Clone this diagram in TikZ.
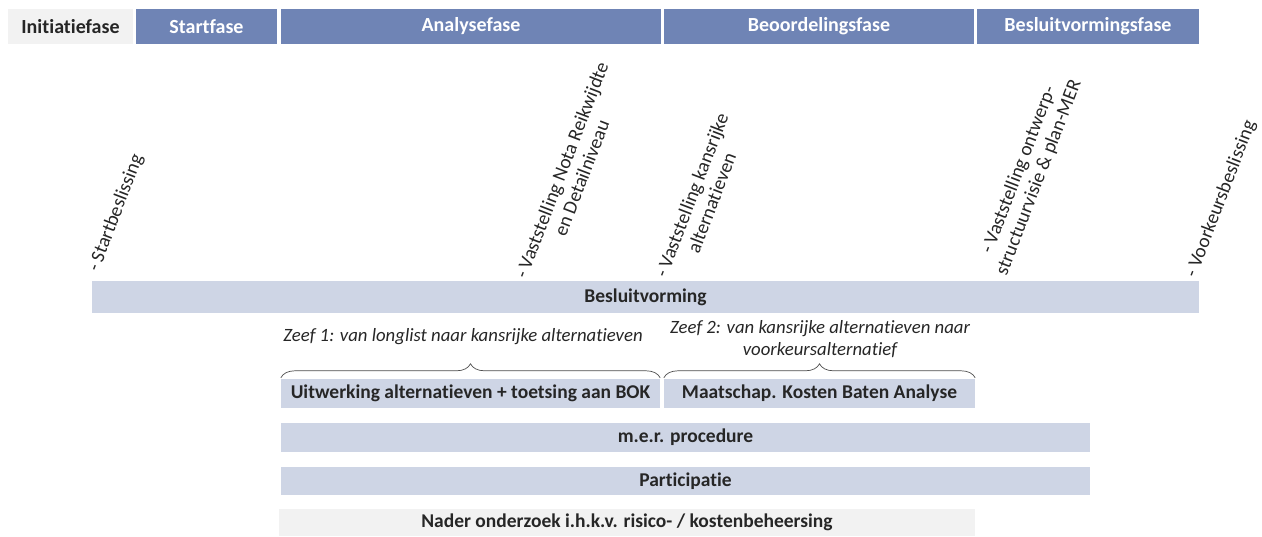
\documentclass[tikz,border=0pt]{standalone}
\usepackage{fontspec}
\setmainfont{Carlito}[Ligatures=NoCommon]
\usetikzlibrary{decorations.pathreplacing}
\definecolor{hdrblue}{RGB}{111,132,181}
\definecolor{barblue}{RGB}{206,213,229}
\definecolor{lightgray}{RGB}{242,242,242}
\tikzset{
  hdr/.style={fill=hdrblue,text=white,font=\fontsize{20}{22}\selectfont\bfseries,inner sep=0pt,minimum height=35pt},
  bar/.style={fill=barblue,text=black!85,font=\fontsize{19.5}{21}\selectfont\bfseries,inner sep=0pt},
  milestone/.style={rotate=69,anchor=center,inner sep=0pt,align=center,font=\fontsize{19.5}{21.5}\selectfont,text=black!85},
  zeef/.style={font=\fontsize{18.75}{22}\selectfont\itshape,align=center,text=black!85},
  bracestyle/.style={decorate,decoration={brace,amplitude=14pt},draw=black!70,line width=0.7pt}
}
\begin{document}
\begin{tikzpicture}[x=1pt,y=-1pt]
\useasboundingbox (0,0) rectangle (1262,536);
% header
\node[hdr,fill=lightgray,text=black!85,minimum width=125pt] (ini) at (70.5,26.5) {Initiatiefase};
\node[hdr,minimum width=141pt] (start) at (206.5,26.5) {Startfase};
\node[hdr,minimum width=380pt] (ana) at (471,26.5) {Analysefase};
\node[hdr,minimum width=310pt] (beo) at (819,26.5) {Beoordelingsfase};
\node[hdr,minimum width=222pt] (bes) at (1088,26.5) {Besluitvormingsfase};
% milestones
\node[milestone] (m1) at (116,213) {- Startbeslissing};
\node[milestone] (m2) at (571.5,174) {- Vaststelling Nota Reikwijdte\\en Detailniveau};
\node[milestone] (m3) at (701.5,199) {- Vaststelling kansrijke\\alternatieven};
\node[milestone] (m4) at (1029,174) {- Vaststelling ontwerp-\\structuurvisie \& plan-MER};
\node[milestone] (m5) at (1221,199) {- Voorkeursbeslissing};
% besluitvorming
\node[bar,minimum width=1107pt,minimum height=32pt] (besl) at (645.5,297) {Besluitvorming};
% zeef texts
\node[zeef] (z1) at (463,337) {Zeef 1: van longlist naar kansrijke alternatieven};
\node[zeef] (z2) at (820,339) {Zeef 2: van kansrijke alternatieven naar\\voorkeursalternatief};
% boxes
\node[bar,minimum width=379pt,minimum height=29pt] (uit) at (470.5,393.5) {Uitwerking alternatieven + toetsing aan BOK};
\node[bar,minimum width=311pt,minimum height=29pt] (mkba) at (819.5,393.5) {Maatschap. Kosten Baten Analyse};
\node[bar,minimum width=809pt,minimum height=29pt] (mer) at (685.5,437.5) {m.e.r. procedure};
\node[bar,minimum width=809pt,minimum height=28pt] (part) at (685.5,481) {Participatie};
\node[bar,fill=lightgray,minimum width=696pt,minimum height=27pt] (nader) at (627,522.5) {Nader onderzoek i.h.k.v. risico- / kostenbeheersing};
% braces
\path (uit.north west) ++(0,-1) coordinate (b1s);
\path (uit.north east) ++(0,-1) coordinate (b1e);
\path (mkba.north west) ++(0,-1) coordinate (b2s);
\path (mkba.north east) ++(0,-1) coordinate (b2e);
\draw[bracestyle] (b1s) -- (b1e);
\draw[bracestyle] (b2s) -- (b2e);
\end{tikzpicture}
\end{document}
